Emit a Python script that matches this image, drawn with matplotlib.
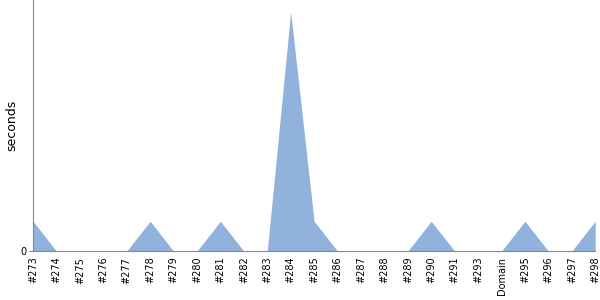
import matplotlib
matplotlib.use("Agg")
import matplotlib.pyplot as plt

builds = ["#273", "#274", "#275", "#276", "#277", "#278", "#279", "#280",
          "#281", "#282", "#283", "#284", "#285", "#286", "#287", "#288",
          "#289", "#290", "#291", "#293", "Domain", "#295", "#296", "#297",
          "#298"]
seconds = [1, 0, 0, 0, 0, 1, 0, 0, 1, 0, 0, 8, 1, 0, 0, 0,
           0, 1, 0, 0, 0, 1, 0, 0, 1]

plt.rcParams['font.family'] = ['DejaVu Sans']

fig = plt.figure(figsize=(6, 3), dpi=100)
ax = fig.add_axes([0.055, 0.163, 0.937, 0.837])

x = list(range(len(builds)))
ax.fill_between(x, seconds, 0, color="#90b2dc", linewidth=0)

ax.set_xlim(0, len(builds) - 1)
ax.set_ylim(0, 8.4)
ax.set_xticks(x)
ax.set_xticklabels(builds, rotation=90, fontsize=7)
ax.set_yticks([0])
ax.set_yticklabels(["0"], fontsize=7)
ax.set_ylabel("seconds", fontsize=9)
ax.yaxis.set_label_coords(-0.027, 0.5)

for s in ["top", "right"]:
    ax.spines[s].set_visible(False)
for s in ["left", "bottom"]:
    ax.spines[s].set_color("#888888")
ax.tick_params(axis="x", length=0, pad=4)
ax.tick_params(axis="y", length=3, color="#888888", pad=2)

fig.savefig("out.png")
